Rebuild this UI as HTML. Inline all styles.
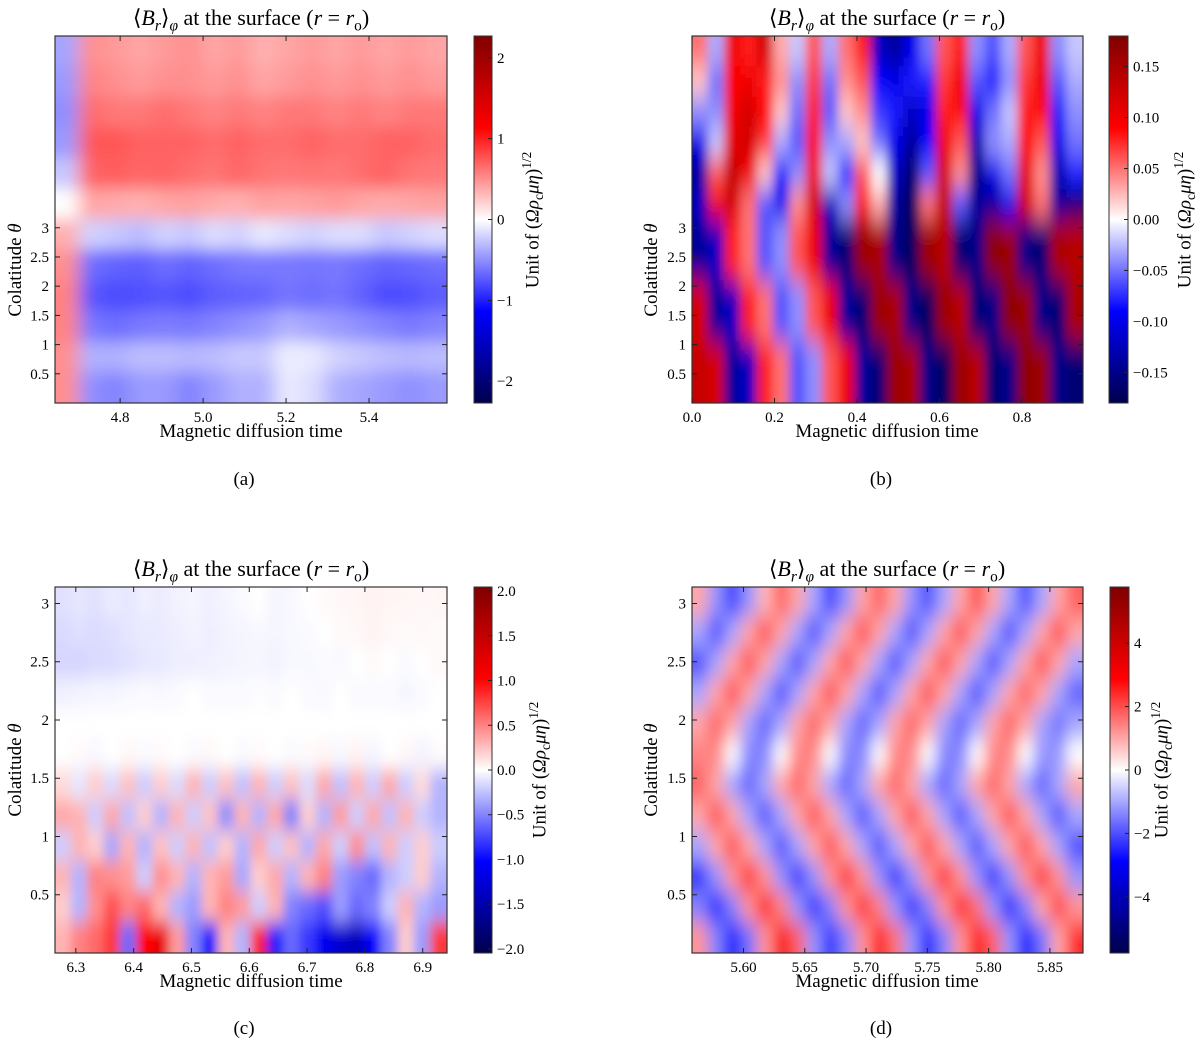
<!DOCTYPE html>
<html>
<head>
<meta charset="utf-8">
<style>
html,body{margin:0;padding:0;background:#fff;}
#root{position:relative;width:1200px;height:1046px;overflow:hidden;font-family:"Liberation Serif",serif;color:#000;}
svg{position:absolute;left:0;top:0;}
.t{position:absolute;white-space:nowrap;font-family:"Liberation Serif",serif;}
.title{font-size:22px;transform:translateX(-50%);}
.xl{font-size:19px;transform:translateX(-50%);}
.pl{font-size:19px;transform:translateX(-50%);}
.yl{font-size:19px;transform:translate(-50%,-50%) rotate(-90deg);}
.cl{font-size:19px;transform:translate(-50%,-50%) rotate(-90deg);}
sub,sup{font-size:70%;}
</style>
</head>
<body>
<div id="root">
<svg id="chart" width="1200" height="1046"></svg>

<div class="t title" style="left:251px;top:5px">⟨<i>B</i><sub><i>r</i></sub>⟩<sub><i>φ</i></sub> at the surface (<i>r</i> = <i>r</i><sub>o</sub>)</div>
<div class="t title" style="left:887px;top:5px">⟨<i>B</i><sub><i>r</i></sub>⟩<sub><i>φ</i></sub> at the surface (<i>r</i> = <i>r</i><sub>o</sub>)</div>
<div class="t title" style="left:251px;top:556px">⟨<i>B</i><sub><i>r</i></sub>⟩<sub><i>φ</i></sub> at the surface (<i>r</i> = <i>r</i><sub>o</sub>)</div>
<div class="t title" style="left:887px;top:556px">⟨<i>B</i><sub><i>r</i></sub>⟩<sub><i>φ</i></sub> at the surface (<i>r</i> = <i>r</i><sub>o</sub>)</div>

<div class="t xl" style="left:251px;top:421px">Magnetic diffusion time</div>
<div class="t xl" style="left:887px;top:421px">Magnetic diffusion time</div>
<div class="t xl" style="left:251px;top:971px">Magnetic diffusion time</div>
<div class="t xl" style="left:887px;top:971px">Magnetic diffusion time</div>

<div class="t yl" style="left:16px;top:270px">Colatitude <i>θ</i></div>
<div class="t yl" style="left:652px;top:270px">Colatitude <i>θ</i></div>
<div class="t yl" style="left:16px;top:770px">Colatitude <i>θ</i></div>
<div class="t yl" style="left:652px;top:770px">Colatitude <i>θ</i></div>

<div class="t cl" style="left:533px;top:220px">Unit of (<i>Ωρ</i><sub>c</sub><i>μη</i>)<sup>1/2</sup></div>
<div class="t cl" style="left:1185px;top:220px">Unit of (<i>Ωρ</i><sub>c</sub><i>μη</i>)<sup>1/2</sup></div>
<div class="t cl" style="left:540px;top:770px">Unit of (<i>Ωρ</i><sub>c</sub><i>μη</i>)<sup>1/2</sup></div>
<div class="t cl" style="left:1162px;top:770px">Unit of (<i>Ωρ</i><sub>c</sub><i>μη</i>)<sup>1/2</sup></div>

<div class="t pl" style="left:244px;top:469px">(a)</div>
<div class="t pl" style="left:881px;top:469px">(b)</div>
<div class="t pl" style="left:244px;top:1018px">(c)</div>
<div class="t pl" style="left:881px;top:1018px">(d)</div>
</div>

<script>
// ---------- Panel (a) data: rows from top (high θ) to bottom, cols in time ----------
const aXTicks = [4.8, 5.0, 5.2, 5.4];
const aXTickLabels = ["4.8", "5.0", "5.2", "5.4"];
const aYTicks = [0.5, 1, 1.5, 2, 2.5, 3];
const aYTickLabels = ["0.5", "1", "1.5", "2", "2.5", "3"];
const aCbTicks = [2, 1, 0, -1, -2];
const aCbTickLabels = ["2", "1", "0", "\u22121", "\u22122"];
const aGrid = [
 [-0.4,0.5,0.45,0.4,0.45,0.5,0.4,0.45,0.35,0.4,0.45,0.4,0.45,0.4,0.45,0.4],
 [-0.45,0.55,0.5,0.45,0.5,0.5,0.45,0.5,0.4,0.45,0.5,0.45,0.5,0.45,0.5,0.45],
 [-0.5,0.65,0.6,0.6,0.65,0.6,0.55,0.6,0.55,0.6,0.6,0.55,0.6,0.55,0.6,0.6],
 [-0.45,0.75,0.75,0.7,0.7,0.7,0.65,0.7,0.65,0.65,0.7,0.65,0.65,0.7,0.7,0.65],
 [-0.25,0.7,0.72,0.68,0.7,0.65,0.62,0.68,0.62,0.6,0.62,0.6,0.65,0.7,0.62,0.6],
 [0.0,0.4,0.38,0.35,0.4,0.42,0.38,0.35,0.42,0.4,0.42,0.45,0.4,0.38,0.4,0.42],
 [0.35,-0.2,-0.25,-0.3,-0.2,-0.25,-0.15,-0.2,-0.1,-0.15,-0.2,-0.15,-0.15,-0.25,-0.2,-0.15],
 [0.5,-0.65,-0.7,-0.72,-0.65,-0.7,-0.65,-0.6,-0.6,-0.6,-0.62,-0.6,-0.65,-0.7,-0.68,-0.65],
 [0.55,-0.75,-0.8,-0.78,-0.75,-0.8,-0.72,-0.7,-0.68,-0.62,-0.65,-0.62,-0.7,-0.8,-0.78,-0.72],
 [0.55,-0.6,-0.65,-0.6,-0.58,-0.6,-0.55,-0.5,-0.45,-0.35,-0.4,-0.45,-0.5,-0.55,-0.6,-0.55],
 [0.5,-0.35,-0.35,-0.3,-0.3,-0.32,-0.3,-0.25,-0.25,-0.08,-0.1,-0.2,-0.25,-0.3,-0.32,-0.3],
 [0.5,-0.5,-0.55,-0.45,-0.45,-0.55,-0.45,-0.35,-0.35,-0.1,-0.15,-0.35,-0.4,-0.45,-0.5,-0.45]
];

// ---------- Panel (b) data ----------
const bXTicks = [0.0, 0.2, 0.4, 0.6, 0.8];
const bXTickLabels = ["0.0", "0.2", "0.4", "0.6", "0.8"];
const bYTicks = [0.5, 1, 1.5, 2, 2.5, 3];
const bYTickLabels = ["0.5", "1", "1.5", "2", "2.5", "3"];
const bCbTicks = [0.15, 0.10, 0.05, 0.00, -0.05, -0.10, -0.15];
const bCbTickLabels = ["0.15", "0.10", "0.05", "0.00", "\u22120.05", "\u22120.10", "\u22120.15"];
const bGrid = [
 [0.05,-0.03,0.10,0.08,0.12,0.03,-0.02,0.06,-0.03,0.05,0.08,-0.12,-0.14,-0.10,-0.05,0.06,0.08,-0.04,-0.06,-0.03,0.06,0.10,-0.04,-0.02],
 [0.02,-0.05,0.09,0.10,0.08,0.04,-0.04,0.07,-0.05,0.04,0.06,-0.09,-0.10,-0.08,-0.08,0.07,0.10,-0.06,-0.08,-0.04,0.07,0.10,-0.06,-0.03],
 [-0.04,-0.04,0.10,0.12,0.09,0.02,-0.05,0.08,-0.06,0.02,0.04,-0.07,-0.08,-0.12,-0.10,0.08,0.09,-0.10,-0.05,-0.02,0.08,0.09,-0.08,-0.04],
 [-0.10,-0.02,0.11,0.12,0.07,-0.03,-0.06,0.09,-0.04,-0.03,0.02,-0.05,-0.10,-0.14,-0.09,0.10,0.06,-0.13,-0.04,-0.03,0.09,0.06,-0.10,-0.05],
 [-0.14,0.06,0.13,0.10,0.02,-0.08,-0.04,0.10,-0.02,-0.08,0.06,0.00,-0.12,-0.16,-0.06,0.12,0.04,-0.15,-0.10,-0.05,0.11,0.04,-0.13,-0.08],
 [-0.12,0.10,0.12,0.05,-0.06,-0.10,0.04,0.12,-0.12,-0.04,0.08,0.03,-0.14,-0.17,0.05,0.13,-0.06,-0.14,-0.14,-0.10,0.12,0.05,-0.14,-0.16],
 [-0.14,-0.12,0.08,0.05,-0.06,-0.04,0.06,0.10,-0.14,-0.16,0.16,0.15,-0.15,-0.17,0.16,0.14,-0.16,-0.15,0.17,0.16,-0.15,-0.16,0.15,0.14],
 [-0.14,-0.12,0.08,0.05,-0.06,-0.04,0.06,0.10,-0.14,-0.16,0.16,0.15,-0.15,-0.17,0.16,0.14,-0.16,-0.15,0.17,0.16,-0.15,-0.16,0.15,0.14],
 [0.12,-0.14,-0.12,0.08,0.05,-0.06,-0.04,0.06,0.10,-0.14,-0.16,0.16,0.15,-0.15,-0.17,0.16,0.14,-0.16,-0.15,0.17,0.16,-0.15,-0.16,0.15],
 [0.12,-0.14,-0.12,0.08,0.05,-0.06,-0.04,0.06,0.10,-0.14,-0.16,0.16,0.15,-0.15,-0.17,0.16,0.14,-0.16,-0.15,0.17,0.16,-0.15,-0.16,0.15],
 [0.13,0.12,-0.14,-0.12,0.08,0.05,-0.06,-0.04,0.06,0.10,-0.14,-0.16,0.16,0.15,-0.15,-0.17,0.16,0.14,-0.16,-0.15,0.17,0.16,-0.15,-0.16],
 [0.13,0.12,-0.14,-0.12,0.08,0.05,-0.06,-0.04,0.06,0.10,-0.14,-0.16,0.16,0.15,-0.15,-0.17,0.16,0.14,-0.16,-0.15,0.17,0.16,-0.15,-0.16]
];

// ---------- Panel (c) data ----------
const cXTicks = [6.3, 6.4, 6.5, 6.6, 6.7, 6.8, 6.9];
const cXTickLabels = ["6.3", "6.4", "6.5", "6.6", "6.7", "6.8", "6.9"];
const cYTicks = [0.5, 1, 1.5, 2, 2.5, 3];
const cYTickLabels = ["0.5", "1", "1.5", "2", "2.5", "3"];
const cCbTicks = [2.0, 1.5, 1.0, 0.5, 0.0, -0.5, -1.0, -1.5, -2.0];
const cCbTickLabels = ["2.0", "1.5", "1.0", "0.5", "0.0", "\u22120.5", "\u22121.0", "\u22121.5", "\u22122.0"];
const cGrid = [
 [-0.12,-0.1,-0.12,-0.08,-0.1,-0.06,-0.08,-0.05,-0.04,-0.06,-0.04,-0.02,0.0,-0.04,-0.03,0.0,0.02,0.03,0.04,0.05,0.04,0.04,0.03,0.04],
 [-0.15,-0.13,-0.14,-0.13,-0.1,-0.09,-0.08,-0.07,-0.05,-0.07,-0.05,-0.04,-0.03,-0.04,-0.03,-0.02,0.0,0.02,0.03,0.05,0.03,0.02,0.03,0.02],
 [-0.17,-0.17,-0.15,-0.14,-0.12,-0.1,-0.09,-0.07,-0.07,-0.06,-0.05,-0.04,-0.04,-0.05,-0.03,-0.03,-0.02,-0.03,0.0,0.02,0.0,-0.02,0.0,0.03],
 [-0.06,-0.05,-0.04,-0.04,-0.03,-0.02,-0.03,-0.02,0.0,-0.02,-0.02,-0.02,-0.01,-0.02,0.0,-0.02,-0.03,0.0,-0.02,-0.02,-0.02,-0.04,-0.02,0.0],
 [0,0,0,0,0,0,0,0,0,0,0,0,0,0,0,0,0,0,0,0,0,0,0,0],
 [0.0,0.02,-0.03,0.0,0.03,-0.02,0.02,0.0,-0.02,0.03,0.0,-0.02,0.02,0.0,-0.02,0.02,0.04,-0.03,0.05,-0.04,0.0,0.03,-0.05,0.02],
 [0.15,-0.1,0.2,-0.15,0.25,-0.2,0.2,-0.15,0.3,-0.2,0.25,-0.25,0.3,-0.2,0.25,-0.15,0.35,-0.25,0.3,-0.2,0.35,-0.2,0.15,-0.3],
 [0.35,0.3,-0.2,0.35,-0.25,0.2,-0.3,0.3,-0.2,0.25,-0.45,0.3,-0.3,0.35,-0.5,0.2,-0.3,0.4,-0.2,0.35,-0.25,0.3,-0.2,-0.3],
 [-0.2,0.3,0.2,-0.35,0.3,-0.3,0.25,-0.2,0.3,-0.25,0.2,-0.3,0.35,-0.2,0.25,-0.3,0.35,-0.2,0.45,-0.25,0.3,-0.2,0.2,-0.2],
 [0.3,-0.3,0.5,0.45,0.4,-0.2,0.45,0.3,-0.3,0.3,0.4,-0.35,0.2,0.35,-0.3,0.3,0.5,-0.4,-0.5,-0.6,-0.3,-0.2,0.2,-0.3],
 [0.2,-0.3,0.45,0.7,0.5,0.6,0.3,-0.3,-0.4,0.3,0.5,0.4,-0.2,0.3,-0.5,-0.6,-0.7,-0.4,-0.6,-0.5,-0.2,0.3,-0.3,-0.4],
 [0.3,0.5,0.6,0.8,-0.6,1.0,1.2,0.4,-0.5,-1.0,0.3,-0.3,0.9,-0.9,-0.6,-0.8,-1.1,-1.3,-1.4,-1.0,-0.5,0.2,-0.4,0.8]
];

// ---------- Panel (d) data ----------
const dXTicks = [5.60, 5.65, 5.70, 5.75, 5.80, 5.85];
const dXTickLabels = ["5.60", "5.65", "5.70", "5.75", "5.80", "5.85"];
const dYTicks = [0.5, 1, 1.5, 2, 2.5, 3];
const dYTickLabels = ["0.5", "1", "1.5", "2", "2.5", "3"];
const dCbTicks = [4, 2, 0, -2, -4];
const dCbTickLabels = ["4", "2", "0", "\u22122", "\u22124"];
const dGrid = [
 [1.0,-1.2,-2.2,-1.2,0.8,1.8,1.0,-1.0,-2.2,-1.2,1.0,1.8,1.0,-1.2,-2.0,-1.0,1.0,2.0,1.0,-1.0,-2.0,-1.0,1.0,1.8],
 [-1.0,-2.0,-1.0,1.0,2.0,1.0,-1.0,-2.0,-1.0,1.0,2.0,1.0,-1.0,-2.0,-1.0,1.0,2.0,1.0,-1.0,-2.0,-1.0,1.0,2.0,1.0],
 [-2.0,-1.0,1.0,2.0,1.0,-1.0,-2.0,-1.0,1.0,2.0,1.0,-1.0,-2.0,-1.0,1.0,2.0,1.0,-1.0,-2.0,-1.0,1.0,2.0,1.0,-1.0],
 [-1.0,1.0,2.0,1.0,-1.0,-2.0,-1.0,1.0,2.0,1.0,-1.0,-2.0,-1.0,1.0,2.0,1.0,-1.0,-2.0,-1.0,1.0,1.8,1.0,-1.0,-1.8],
 [1.0,1.8,1.0,-1.0,-1.8,-1.0,1.0,1.8,1.0,-1.0,-1.8,-1.0,1.0,1.8,1.0,-1.0,-1.8,-1.0,1.0,1.8,1.0,-1.0,-1.6,-1.0],
 [1.4,1.4,0.0,-1.4,-1.4,0.0,1.4,1.4,0.0,-1.4,-1.4,0.0,1.4,1.4,0.0,-1.4,-1.4,0.0,1.4,1.4,0.0,-1.2,-1.2,0.0],
 [1.8,1.0,-1.0,-1.8,-1.0,1.0,1.8,1.0,-1.0,-1.8,-1.0,1.0,1.8,1.0,-1.0,-1.8,-1.0,1.0,1.8,1.0,-1.0,-1.8,-1.0,1.0],
 [1.0,2.0,1.0,-1.0,-2.0,-1.0,1.0,2.0,1.0,-1.0,-2.0,-1.0,1.0,2.0,1.0,-1.0,-2.0,-1.0,1.0,2.0,1.0,-1.0,-2.0,-1.0],
 [-1.0,1.0,2.0,1.0,-1.0,-2.0,-1.0,1.0,2.0,1.0,-1.0,-2.0,-1.0,1.0,2.0,1.0,-1.0,-2.0,-1.0,1.0,2.0,1.0,-1.0,-2.0],
 [-2.4,-1.2,1.2,2.4,1.2,-1.2,-2.4,-1.2,1.2,2.4,1.2,-1.2,-2.4,-1.2,1.2,2.4,1.2,-1.2,-2.4,-1.2,1.2,2.4,1.2,-1.2],
 [-1.4,-2.6,-1.4,1.2,2.6,1.4,-1.2,-2.4,-1.4,1.2,2.4,1.4,-1.2,-2.4,-1.4,1.2,2.6,1.6,-1.2,-2.6,-1.4,1.0,2.2,1.2],
 [1.2,-1.4,-2.8,-1.6,1.2,3.0,1.8,-1.2,-2.4,-1.4,1.2,2.8,1.6,-1.2,-2.6,-1.4,1.2,2.8,1.8,-1.2,-2.8,-1.6,1.0,2.4]
];

const NS = "http://www.w3.org/2000/svg";
const svg = document.getElementById("chart");
function mk(tag, attrs, parent) {
  const e = document.createElementNS(NS, tag);
  for (const k in attrs) e.setAttribute(k, attrs[k]);
  (parent || svg).appendChild(e);
  return e;
}
function seismic(v, vmax) {
  let t = (v / vmax + 1) / 2;
  t = Math.max(0, Math.min(1, t));
  let r, g, b;
  if (t < 0.25) { r = 0; g = 0; b = 0.3 + 0.7 * t / 0.25; }
  else if (t < 0.5) { const s = (t - 0.25) / 0.25; r = s; g = s; b = 1; }
  else if (t < 0.75) { const s = 1 - (t - 0.5) / 0.25; r = 1; g = s; b = s; }
  else { r = 1 - 0.5 * (t - 0.75) / 0.25; g = 0; b = 0; }
  return "rgb(" + Math.round(r * 255) + "," + Math.round(g * 255) + "," + Math.round(b * 255) + ")";
}
const defs = mk("defs", {});

function drawPanel(id, P) {
  const x0 = P.px, y0 = P.py, w = P.pw, h = P.ph;
  const xs = v => x0 + (v - P.xdom[0]) / (P.xdom[1] - P.xdom[0]) * w;
  const ys = v => y0 + h - (v - P.ydom[0]) / (P.ydom[1] - P.ydom[0]) * h;
  const cs = v => P.cby + P.cbh / 2 - v / P.vmax * (P.cbh / 2);
  const rows = P.grid.length, cols = P.grid[0].length;

  const clip = mk("clipPath", { id: "clip-" + id }, defs);
  mk("rect", { x: x0, y: y0, width: w, height: h }, clip);
  const filt = mk("filter", { id: "blur-" + id, x: "-20%", y: "-20%", width: "140%", height: "140%" }, defs);
  mk("feGaussianBlur", { stdDeviation: P.blur }, filt);

  const outer = mk("g", { "clip-path": "url(#clip-" + id + ")" });
  
  
  mk("rect", { x: x0, y: y0, width: w, height: h, fill: "#fff" }, outer);
  const g = mk("g", { filter: "url(#blur-" + id + ")" }, outer);
  const dx = (P.xdom[1] - P.xdom[0]) / cols, dy = (P.ydom[1] - P.ydom[0]) / rows;
  for (let i = -3; i <= rows + 2; i++) {
    for (let j = -3; j <= cols + 2; j++) {
      const ii = Math.max(0, Math.min(rows - 1, i)), jj = Math.max(0, Math.min(cols - 1, j));
      const v = P.grid[ii][jj];
      const xa = xs(P.xdom[0] + j * dx), xb = xs(P.xdom[0] + (j + 1) * dx);
      const ya = ys(P.ydom[1] - i * dy), yb = ys(P.ydom[1] - (i + 1) * dy);
      const r = mk("rect", { x: xa - 0.5, y: ya - 0.5, width: xb - xa + 1, height: yb - ya + 1, fill: seismic(v, P.vmax) }, g);
      
      
    }
  }
  const frame = mk("rect", { x: x0, y: y0, width: w, height: h, fill: "none", stroke: "#333", "stroke-width": 1.2 });
  
  

  P.xticks.forEach((t, k) => {
    const x = xs(t);
    mk("line", { x1: x, x2: x, y1: y0 + h, y2: y0 + h - 5, stroke: "#222", "stroke-width": 1 });
    mk("line", { x1: x, x2: x, y1: y0, y2: y0 + 5, stroke: "#222", "stroke-width": 1 });
    const tx = mk("text", { x: x, y: y0 + h + 19, "font-size": 15, "text-anchor": "middle", "font-family": "Liberation Serif, serif" });
    tx.textContent = P.xlabels[k];
    
    
  });
  P.yticks.forEach((t, k) => {
    const y = ys(t);
    mk("line", { x1: x0, x2: x0 + 5, y1: y, y2: y, stroke: "#222", "stroke-width": 1 });
    mk("line", { x1: x0 + w, x2: x0 + w - 5, y1: y, y2: y, stroke: "#222", "stroke-width": 1 });
    const tx = mk("text", { x: x0 - 6, y: y + 5, "font-size": 15, "text-anchor": "end", "font-family": "Liberation Serif, serif" });
    tx.textContent = P.ylabels[k];
    
    
  });

  const grad = mk("linearGradient", { id: "grad-" + id, x1: 0, y1: 1, x2: 0, y2: 0 }, defs);
  for (let k = 0; k <= 40; k++) {
    const v = -P.vmax + 2 * P.vmax * k / 40;
    mk("stop", { offset: (k / 40 * 100) + "%", "stop-color": seismic(v, P.vmax) }, grad);
  }
  const cb = mk("rect", { x: P.cbx, y: P.cby, width: P.cbw, height: P.cbh, fill: "url(#grad-" + id + ")", stroke: "#333", "stroke-width": 1 });
  
  
  P.cbticks.forEach((t, k) => {
    const y = cs(t);
    mk("line", { x1: P.cbx + P.cbw, x2: P.cbx + P.cbw - 4, y1: y, y2: y, stroke: "#222", "stroke-width": 1 });
    const tx = mk("text", { x: P.cbx + P.cbw + 5, y: y + 5, "font-size": 15, "font-family": "Liberation Serif, serif" });
    tx.textContent = P.cblabels[k];
    
    
  });
}

drawPanel("a", { px: 55, py: 36, pw: 392, ph: 367, xdom: [4.643, 5.588], ydom: [0, 2 * Math.PI], grid: aGrid, vmax: 2.27, blur: "9 8",
  xticks: aXTicks, xlabels: aXTickLabels, yticks: aYTicks, ylabels: aYTickLabels,
  cbx: 474, cby: 36, cbw: 18, cbh: 367, cbticks: aCbTicks, cblabels: aCbTickLabels });
drawPanel("b", { px: 692, py: 36, pw: 391, ph: 367, xdom: [0, 0.948], ydom: [0, 2 * Math.PI], grid: bGrid, vmax: 0.18, blur: "5 13",
  xticks: bXTicks, xlabels: bXTickLabels, yticks: bYTicks, ylabels: bYTickLabels,
  cbx: 1109, cby: 36, cbw: 19, cbh: 367, cbticks: bCbTicks, cblabels: bCbTickLabels });
drawPanel("c", { px: 55, py: 587, pw: 392, ph: 366, xdom: [6.264, 6.942], ydom: [0, Math.PI], grid: cGrid, vmax: 2.045, blur: "5 9",
  xticks: cXTicks, xlabels: cXTickLabels, yticks: cYTicks, ylabels: cYTickLabels,
  cbx: 474, cby: 587, cbw: 18, cbh: 366, cbticks: cCbTicks, cblabels: cCbTickLabels });
drawPanel("d", { px: 692, py: 587, pw: 391, ph: 366, xdom: [5.558, 5.877], ydom: [0, Math.PI], grid: dGrid, vmax: 5.77, blur: "7 11",
  xticks: dXTicks, xlabels: dXTickLabels, yticks: dYTicks, ylabels: dYTickLabels,
  cbx: 1110, cby: 587, cbw: 19, cbh: 366, cbticks: dCbTicks, cblabels: dCbTickLabels });
</script>
</body>
</html>
